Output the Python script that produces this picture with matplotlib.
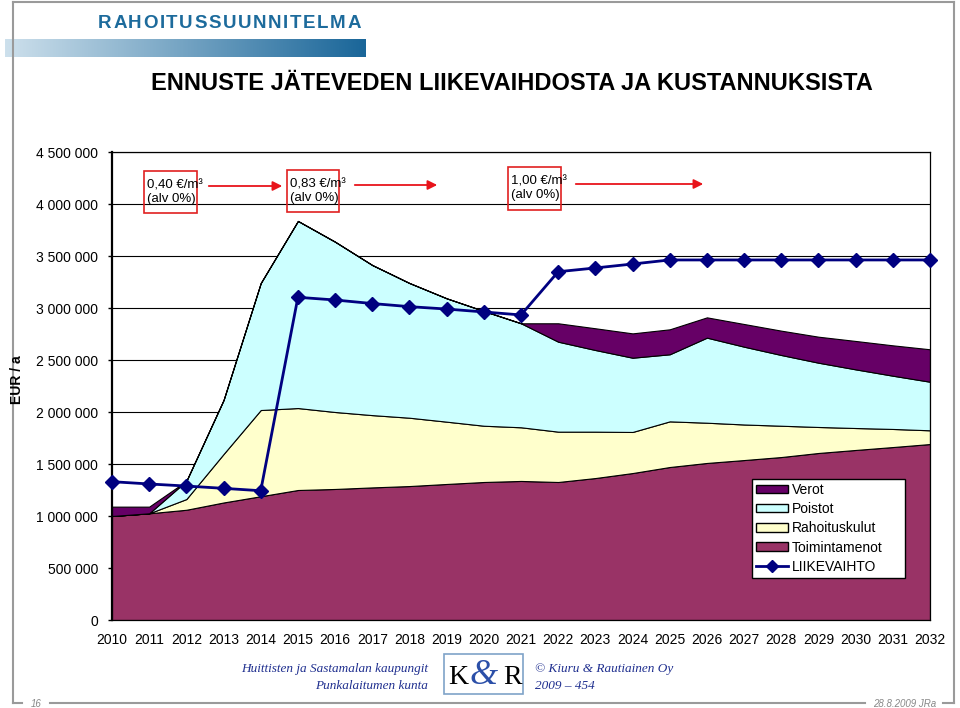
import numpy as np
import matplotlib
matplotlib.use('Agg')
import matplotlib.pyplot as plt
from matplotlib.patches import Rectangle, Patch, FancyArrowPatch
from matplotlib.lines import Line2D
from matplotlib.colors import LinearSegmentedColormap
from matplotlib.ticker import FuncFormatter, MultipleLocator

plt.rcParams['font.family'] = ['Liberation Sans', 'DejaVu Sans']

# data (EUR / a)
years = list(range(2010, 2033))
toimintamenot = [1000000, 1026000, 1060000, 1130000, 1190000, 1250000, 1260000, 1275000,
                 1288000, 1308000, 1327000, 1337000, 1327000, 1365000, 1413000, 1471000,
                 1510000, 1538000, 1567000, 1606000, 1635000, 1663000, 1692000]
rahoituskulut = [0, 0, 103000, 466000, 829000, 788000, 740000, 695000,
                 657000, 599000, 541000, 516000, 484000, 446000, 395000, 439000,
                 387000, 342000, 301000, 250000, 211000, 174000, 132000]
poistot = [0, 0, 174000, 519000, 1221000, 1799000, 1637000, 1443000,
           1295000, 1186000, 1103000, 1000000, 865000, 785000, 714000, 645000,
           818000, 748000, 680000, 618000, 564000, 512000, 467000]
verot = [90000, 64000, 0, 0, 0, 0, 0, 0,
         0, 0, 0, 0, 177000, 209000, 234000, 240000,
         195000, 218000, 234000, 250000, 273000, 292000, 312000]
liikevaihto = [1330000, 1308000, 1288000, 1266000, 1243000, 3103000, 3077000, 3043000,
               3013000, 2990000, 2962000, 2933000, 3349000, 3385000, 3423000, 3462000,
               3462000, 3462000, 3462000, 3462000, 3462000, 3462000, 3462000]

price_labels = ['0,40 €/m³\n(alv 0%)', '0,83 €/m³\n(alv 0%)', '1,00 €/m³\n(alv 0%)']

W, H = 960, 708


def fx(x):
    return x / W


def fy(y):
    return 1 - y / H


fig = plt.figure(figsize=(9.6, 7.08), dpi=100)
renderer = fig.canvas.get_renderer()

# slide frame
grey = '#9a9a9a'
for xs, ys in [([13, 13], [2, 703]), ([13, 954], [2, 2]), ([954, 954], [2, 703]),
               ([13, 22], [703, 703]), ([50, 865], [703, 703]), ([943, 954], [703, 703])]:
    fig.add_artist(Line2D([fx(v) for v in xs], [fy(v) for v in ys], color=grey, lw=1.5))
fig.text(fx(36), fy(704), '16', fontsize=7, color='#888888', style='italic',
         ha='center', va='center')
fig.text(fx(905), fy(704), '28.8.2009 JRa', fontsize=7, color='#888888', style='italic',
         ha='center', va='center')

# header, letter spaced
header = 'RAHOITUSSUUNNITELMA'
x = 98
for ch in header:
    t = fig.text(fx(x), fy(24), ch, fontsize=13.5, fontweight='bold',
                 color='#1d6b9c', ha='left', va='center')
    x += t.get_window_extent(renderer).width + 1.6
gax = fig.add_axes([fx(5), fy(57), fx(361), 18 / H])
cmap = LinearSegmentedColormap.from_list('hdr', ['#cde0ec', '#1a6699'])
gax.imshow(np.linspace(0, 1, 256).reshape(1, -1), aspect='auto', cmap=cmap)
gax.axis('off')

fig.text(fx(512), fy(84), 'ENNUSTE JÄTEVEDEN LIIKEVAIHDOSTA JA KUSTANNUKSISTA',
         fontsize=17, fontweight='bold', ha='center', va='center')

# chart
ax = fig.add_axes([fx(112), fy(620), 818 / W, 468 / H])
colors = ['#993366', '#ffffcc', '#ccffff', '#660066']
ax.stackplot(years, toimintamenot, rahoituskulut, poistot, verot,
             colors=colors, edgecolor='black', linewidth=0.8, zorder=2)
ax.plot(years, liikevaihto, color='#000080', lw=2, marker='D', markersize=7,
        clip_on=False, zorder=4)

ax.set_xlim(2010, 2032)
ax.set_ylim(0, 4500000)
ax.set_xticks(years)
ax.yaxis.set_major_locator(MultipleLocator(500000))
ax.yaxis.set_major_formatter(FuncFormatter(lambda v, p: f'{int(v):,}'.replace(',', ' ')))
ax.tick_params(axis='y', direction='out', length=3, width=1, pad=7, labelsize=10)
ax.tick_params(axis='x', length=0, pad=9, labelsize=10)
ax.grid(axis='y', color='black', lw=0.8, zorder=0)
ax.set_axisbelow(True)
for s in ax.spines.values():
    s.set_color('black')
    s.set_linewidth(0.9)
ax.spines['left'].set_linewidth(1.6)

fig.text(fx(17), fy(380), 'EUR / a', rotation=90, fontsize=10, fontweight='bold',
         ha='center', va='center')

# price annotations
boxes = [(144, 171, 197, 213), (287, 170, 339, 212), (508, 167, 561, 210)]
for (x0, y0, x1, y1), lab in zip(boxes, price_labels):
    fig.add_artist(Rectangle((fx(x0), fy(y1)), (x1 - x0) / W, (y1 - y0) / H,
                             fill=False, edgecolor='#e02020', lw=1.2))
    fig.text(fx(x0 + 3), fy((y0 + y1) / 2), lab, fontsize=9.5, ha='left', va='center',
             linespacing=1.15)
for x0, x1, y in [(206, 285, 186), (352, 440, 185), (573, 706, 184)]:
    fig.add_artist(FancyArrowPatch((fx(x0), fy(y)), (fx(x1), fy(y)),
                                   transform=fig.transFigure, arrowstyle='-|>',
                                   mutation_scale=14, color='#e8141b', lw=1.3))

# legend
handles = [Patch(facecolor=colors[3], edgecolor='black'),
           Patch(facecolor=colors[2], edgecolor='black'),
           Patch(facecolor=colors[1], edgecolor='black'),
           Patch(facecolor=colors[0], edgecolor='black'),
           Line2D([], [], color='#000080', lw=2, marker='D', markersize=6)]
labels = ['Verot', 'Poistot', 'Rahoituskulut', 'Toimintamenot', 'LIIKEVAIHTO']
leg = ax.legend(handles, labels, loc='lower left',
                bbox_to_anchor=(0.782, 0.0897, 0.187, 0.209), mode='expand',
                fontsize=10, frameon=True, fancybox=False, edgecolor='black',
                framealpha=1, borderpad=0.3, labelspacing=0.38, handlelength=2.3,
                handleheight=0.55, handletextpad=0.3, borderaxespad=0)
leg.get_frame().set_linewidth(1)
leg.set_zorder(5)

# footer
blue = '#1f2f8f'
fig.text(fx(428), fy(669), 'Huittisten ja Sastamalan kaupungit', fontsize=9.5,
         family='Liberation Serif', style='italic', color=blue, ha='right', va='center')
fig.text(fx(428), fy(686), 'Punkalaitumen kunta', fontsize=9.5,
         family='Liberation Serif', style='italic', color=blue, ha='right', va='center')
fig.text(fx(535), fy(669), '© Kiuru & Rautiainen Oy', fontsize=9.5,
         family='Liberation Serif', style='italic', color=blue, ha='left', va='center')
fig.text(fx(535), fy(686), '2009 – 454', fontsize=9.5,
         family='Liberation Serif', style='italic', color=blue, ha='left', va='center')
fig.add_artist(Rectangle((fx(444), fy(694)), 79 / W, 40 / H, facecolor='white',
                         edgecolor='#7fa3c8', lw=1.2))
fig.text(fx(458), fy(677), 'K', fontsize=20, family='Liberation Serif',
         ha='center', va='center')
fig.text(fx(513), fy(677), 'R', fontsize=20, family='Liberation Serif',
         ha='center', va='center')
fig.text(fx(484), fy(675), '&', fontsize=26, family='Liberation Serif', style='italic',
         color='#2b4fa8', ha='center', va='center')

fig.savefig('out.png', dpi=100)
